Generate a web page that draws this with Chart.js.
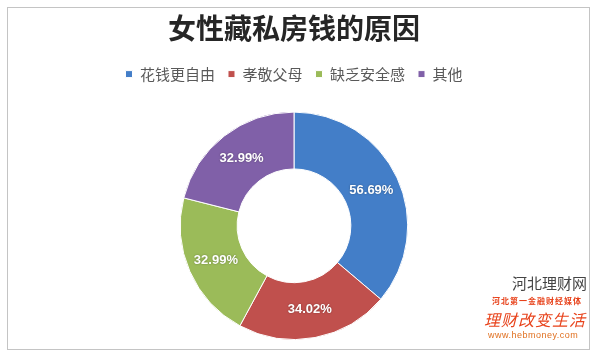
<!DOCTYPE html>
<html>
<head>
<meta charset="utf-8">
<script src="https://cdn.jsdelivr.net/npm/chart.js@4"></script>
<style>
html,body{margin:0;padding:0;background:#fff;}
#wrap{position:relative;width:600px;height:357px;}
canvas{position:absolute;left:0;top:0;}
.wm{position:absolute;white-space:nowrap;}
</style>
</head>
<body>
<div id="wrap">
<canvas id="c" width="600" height="357"></canvas>
<div class="wm" style="left:512px;top:272px;font:15px 'Noto Sans CJK SC';color:#444;">河北理财网</div>
<div class="wm" style="left:492px;top:295px;font:bold 8px 'Noto Sans CJK SC';color:#e8431c;letter-spacing:1px;">河北第一金融财经媒体</div>
<div class="wm" style="left:484px;top:307px;font:italic 16px 'Noto Sans CJK SC';color:#e8431c;letter-spacing:1px;">理财改变生活</div>
<div class="wm" style="left:488px;top:330px;font:9px 'Liberation Sans';color:#e07020;letter-spacing:0.5px;">www.hebmoney.com</div>
</div>
<script>
const titleText = '女性藏私房钱的原因';
const categories = ['花钱更自由', '孝敬父母', '缺乏安全感', '其他'];
const values = [56.69, 34.02, 32.99, 32.99];
const valueLabels = ['56.69%', '34.02%', '32.99%', '32.99%'];
const colors = ['#437ec8', '#c0504d', '#9bbb59', '#8060a8'];

const frame = {
  id: 'frame',
  beforeDraw(chart) {
    const ctx = chart.ctx;
    ctx.save();
    ctx.fillStyle = '#fff';
    ctx.fillRect(0, 0, chart.width, chart.height);
    ctx.strokeStyle = '#c4c4c4';
    ctx.lineWidth = 1;
    ctx.strokeRect(7.5, 7.5, 582, 342);
    ctx.restore();
  }
};

const arcLabels = {
  id: 'arcLabels',
  afterDatasetsDraw(chart) {
    const ctx = chart.ctx;
    const meta = chart.getDatasetMeta(0);
    ctx.save();
    ctx.font = 'bold 13px "Liberation Sans"';
    ctx.textAlign = 'center';
    ctx.textBaseline = 'middle';
    ctx.fillStyle = '#ffffff';
    ctx.shadowColor = 'rgba(0,0,0,0.35)';
    ctx.shadowBlur = 2;
    meta.data.forEach((arc, i) => {
      const p = arc.tooltipPosition();
      ctx.fillText(valueLabels[i], p.x, p.y);
    });
    ctx.restore();
  }
};

const legendFit = {
  id: 'legendFit',
  beforeInit(chart) {
    const orig = chart.legend.fit;
    chart.legend.fit = function () {
      orig.call(this);
      this.height += 20;
    };
  }
};

new Chart(document.getElementById('c'), {
  type: 'doughnut',
  data: {
    labels: categories,
    datasets: [{
      data: values,
      backgroundColor: colors,
      borderColor: '#ffffff',
      borderWidth: 1,
      hoverOffset: 0
    }]
  },
  plugins: [frame, arcLabels, legendFit],
  options: {
    responsive: false,
    animation: false,
    cutout: '50%',
    layout: { padding: { top: 10, bottom: 17, left: 0, right: 12 } },
    plugins: {
      tooltip: { enabled: false },
      title: {
        display: true,
        text: titleText,
        color: '#262626',
        font: { family: '"Noto Sans CJK SC"', size: 28, weight: 'bold' },
        padding: { top: 2, bottom: 8 }
      },
      legend: {
        display: true,
        position: 'top',
        labels: {
          color: '#595959',
          font: { family: '"Noto Sans CJK SC"', size: 15 },
          boxWidth: 7,
          boxHeight: 7,
          padding: 13
        }
      }
    }
  }
});
</script>
</body>
</html>
